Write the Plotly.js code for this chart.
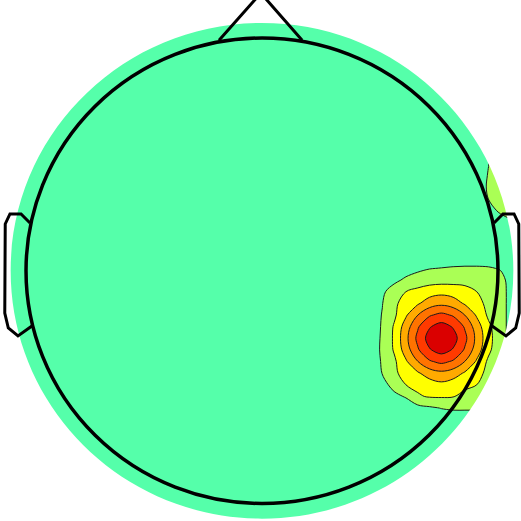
<!DOCTYPE html>
<html>
<head>
<meta charset="utf-8">
<script src="https://cdn.plot.ly/plotly-3.0.1.min.js"></script>
<style>html,body{margin:0;padding:0;background:#fff;}#chart{width:521px;height:521px;}</style>
</head>
<body>
<div id="chart"></div>
<script>
// grid nodes (head radius = 1)
var xNodes = [-1.2, 0.3, 0.41, 0.46, 0.51, 0.56, 0.61, 0.66, 0.71, 0.76, 0.81, 0.86, 0.91, 0.96, 1.01, 1.06, 1.11, 1.16];
var yNodes = [-1.2, -0.85, -0.69, -0.64, -0.59, -0.54, -0.49, -0.44, -0.39, -0.34, -0.29, -0.24, -0.19, -0.14, -0.09, -0.04, 0.01, 0.06, 0.11, 0.16, 0.21, 0.26, 0.31, 0.36, 0.41, 0.46, 0.51, 0.7, 1.3];
// field values (rows follow yNodes)
var zValues = [
  [0,0, 0,0,0,0,0,0,0,0,0,0,0,0,0,0,0,0],
  [0,0, 0,0,0,0,0,0,0,0,0,0,0,0,0,0,0,0],
  [0,0, 0,0,0,0,0.05,0.1,0.1,0.15,0.15,0.15,0.15,0.1,0.1,0.05,0,0],
  [0,0, 0,0,0.05,0.1,0.15,0.2,0.3,0.4,0.45,0.45,0.45,0.4,0.3,0.15,0,0],
  [0,0, 0,0,0.10,0.25,0.45,0.67,0.85,1.03,1.12,1.12,1.12,1.10,0.90,0.50,0.1,0],
  [0,0, 0,0.15,0.50,0.78,1.08,1.90,2.08,2.10,2.05,1.75,1.72,1.70,1.50,0.70,0.10,0],
  [0,0, 0,0.10,0.70,1.30,2.00,2.20,2.50,2.75,2.50,2.20,2.00,1.75,1.30,0.70,0.10,0],
  [0,0, 0,0.40,1.03,1.85,2.30,2.87,3.49,3.75,3.49,2.87,2.30,1.75,1.30,0.70,0.10,0],
  [0,0, 0,0.49,1.09,1.81,2.87,3.98,4.88,5.25,4.88,3.98,2.87,1.81,1.30,0.70,0.10,0],
  [0,0, 0,0.54,1.14,2.10,3.49,4.88,5.92,6.40,5.92,4.88,3.49,2.21,1.30,0.70,0.10,0],
  [0,0, 0,0.52,1.12,2.15,3.73,5.25,6.40,6.80,6.40,5.25,3.73,2.35,1.30,0.70,0.10,0],
  [0,0, 0,0.49,1.09,2.10,3.49,4.88,5.92,6.40,5.92,4.88,3.49,2.21,1.30,0.70,0.10,0],
  [0,0, 0,0.45,1.05,1.81,2.87,3.98,4.88,5.25,4.88,3.98,2.87,1.81,1.30,0.70,0.10,0],
  [0,0, 0,0.37,0.97,1.85,2.30,2.87,3.49,3.75,3.49,2.87,2.30,1.75,1.30,0.70,0.10,0],
  [0,0, 0,0.28,0.85,1.40,2.00,2.30,2.55,2.70,2.55,2.30,2.00,1.75,1.30,0.70,0.10,0],
  [0,0, 0,0.20,0.49,0.80,1.15,1.38,1.57,1.61,1.66,1.72,1.72,1.66,1.30,0.60,0.10,0],
  [0,0, 0,0.05,0.15,0.35,0.62,0.82,0.97,1.03,1.10,1.13,1.13,1.09,0.94,0.30,0.05,0],
  [0,0, 0,0,0.05,0.1,0.2,0.3,0.38,0.4,0.42,0.45,0.45,0.42,0.35,0.15,0,0],
  [0,0, 0,0,0,0.05,0.1,0.12,0.15,0.15,0.17,0.2,0.2,0.2,0.2,0.1,0.05,0],
  [0,0, 0,0,0,0,0,0,0,0,0,0.05,0.26,0.37,0.47,0.54,0.56,0.52],
  [0,0, 0,0,0,0,0,0,0,0,0,0.10,0.45,0.64,0.81,0.93,0.96,0.89],
  [0,0, 0,0,0,0,0,0,0,0,0,0.15,0.60,0.85,1.08,1.24,1.28,1.19],
  [0,0, 0,0,0,0,0,0,0,0,0,0.20,0.71,1.01,1.28,1.47,1.52,1.41],
  [0,0, 0,0,0,0,0,0,0,0,0,0.20,0.75,1.06,1.35,1.55,1.60,1.48],
  [0,0, 0,0,0,0,0,0,0,0,0,0.20,0.73,1.03,1.31,1.50,1.55,1.44],
  [0,0, 0,0,0,0,0,0,0,0,0,0.15,0.68,0.99,1.22,1.39,1.44,1.33],
  [0,0, 0,0,0,0,0,0,0,0,0,0.10,0.54,0.76,0.97,1.11,1.15,1.07],
  [0,0, 0,0,0,0,0,0,0,0,0,0,0,0,0,0,0,0],
  [0,0, 0,0,0,0,0,0,0,0,0,0,0,0,0,0,0,0]
];
var levelColors = ['#55FFAA', '#AAFF55', '#FFFF00', '#FFAA00', '#FF7300', '#FF3A00', '#DA0000'];

// head outline geometry
var earX = [-0.983, -1.021, -1.068, -1.088, -1.090, -1.075, -1.034, -0.975];
var earY = [0.205, 0.244, 0.244, 0.201, -0.182, -0.246, -0.280, -0.237];
var noseX = [-0.182, -0.005, 0.170];
var noseY = [0.99, 1.193, 0.99];
var maskR = 1.065;

function polyPath(xs, ys) {
  return 'M' + xs.map(function (x, k) { return x + ',' + ys[k]; }).join(' L');
}

var n = levelColors.length;
var colorscale = [];
for (var k = 0; k < n; k++) {
  var a = k === 0 ? 0 : (k - 0.5) / (n - 1);
  var b = k === n - 1 ? 1 : (k + 0.5) / (n - 1);
  colorscale.push([a, levelColors[k]]);
  colorscale.push([b, levelColors[k]]);
}

var trace = {
  type: 'contour',
  x: xNodes,
  y: yNodes,
  z: zValues,
  autocontour: false,
  contours: {start: 1, end: 6, size: 1, coloring: 'fill', showlines: true},
  line: {color: '#1a1a1a', width: 1, smoothing: 1},
  colorscale: colorscale,
  showscale: false,
  hoverinfo: 'skip'
};

var R = maskR, c = 0.5523 * maskR;
var maskPath = 'M-5,-5 L5,-5 L5,5 L-5,5 Z ' +
  'M' + R + ',0 C' + R + ',' + (-c) + ' ' + c + ',' + (-R) + ' 0,' + (-R) +
  ' C' + (-c) + ',' + (-R) + ' ' + (-R) + ',' + (-c) + ' ' + (-R) + ',0' +
  ' C' + (-R) + ',' + c + ' ' + (-c) + ',' + R + ' 0,' + R +
  ' C' + c + ',' + R + ' ' + R + ',' + c + ' ' + R + ',0 Z';

var rightEarX = earX.map(function (v) { return -v; });

var shapes = [
  {type: 'path', xref: 'x', yref: 'y', path: maskPath, fillcolor: '#ffffff', fillrule: 'evenodd', line: {width: 0}, layer: 'above'},
  {type: 'circle', xref: 'x', yref: 'y', x0: -1, x1: 1, y0: -1, y1: 1, line: {color: '#000', width: 3.5}, fillcolor: 'rgba(0,0,0,0)', layer: 'above'},
  {type: 'path', xref: 'x', yref: 'y', path: polyPath(noseX, noseY), line: {color: '#000', width: 3}, layer: 'above'},
  {type: 'path', xref: 'x', yref: 'y', path: polyPath(earX, earY), line: {color: '#000', width: 3}, layer: 'above'},
  {type: 'path', xref: 'x', yref: 'y', path: polyPath(rightEarX, earY), line: {color: '#000', width: 3}, layer: 'above'}
];

var layout = {
  width: 521, height: 521,
  margin: {l: 0, r: 0, t: 0, b: 0, pad: 0},
  paper_bgcolor: '#ffffff', plot_bgcolor: '#ffffff',
  showlegend: false,
  xaxis: {range: [-1.1102, 1.0975], visible: false, fixedrange: true},
  yaxis: {range: [-1.0752, 1.1633], visible: false, fixedrange: true},
  shapes: shapes
};

Plotly.newPlot('chart', [trace], layout, {staticPlot: true, displayModeBar: false});
</script>
</body>
</html>
